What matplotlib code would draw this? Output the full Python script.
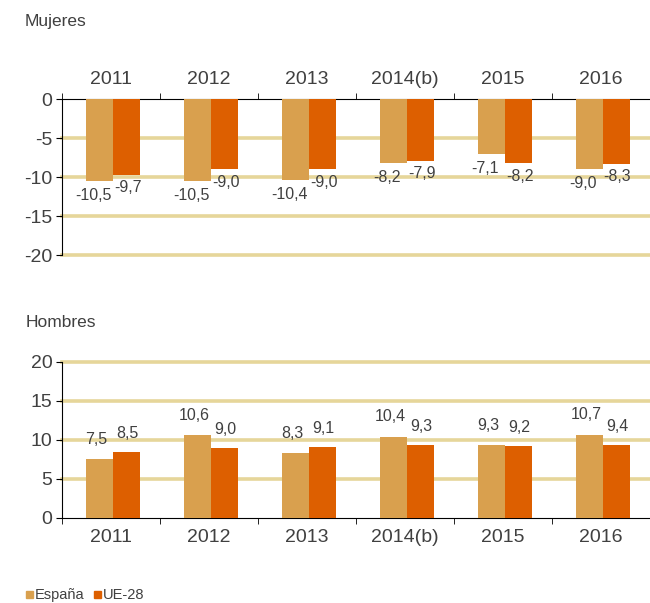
import numpy as np
import matplotlib.pyplot as plt

plt.rcParams['font.family'] = ['Liberation Sans', 'DejaVu Sans']

years = ['2011', '2012', '2013', '2014(b)', '2015', '2016']
mujeres_es = [-10.5, -10.5, -10.4, -8.2, -7.1, -9.0]
mujeres_ue = [-9.7, -9.0, -9.0, -7.9, -8.2, -8.3]
hombres_es = [7.5, 10.6, 8.3, 10.4, 9.3, 10.7]
hombres_ue = [8.5, 9.0, 9.1, 9.3, 9.2, 9.4]

c_es = '#D9A04E'
c_ue = '#DD5F00'
c_grid = '#E6D69A'
c_text = '#404040'

fig = plt.figure(figsize=(6.5, 6.03), dpi=100)
ax1 = fig.add_axes([0.0954, 0.5771, 0.9046, 0.2587])
ax2 = fig.add_axes([0.0954, 0.1410, 0.9046, 0.2587])

x = np.arange(len(years))
w = 0.28


def fmt(v):
    return f'{v:.1f}'.replace('.', ',')


def draw(ax, es, ue, ylim, yticks, top):
    ax.bar(x - w / 2 + 0.02, es, w, color=c_es, zorder=3)
    ax.bar(x + w / 2 + 0.02, ue, w, color=c_ue, zorder=3)
    for t in yticks:
        if t != 0:
            ax.axhline(t, color=c_grid, lw=2.6, zorder=1, clip_on=False)
    ax.set_xlim(-0.5, len(years) - 0.5)
    ax.set_ylim(*ylim)
    ax.set_yticks(yticks)
    ax.set_yticklabels([str(t) for t in yticks], fontsize=14, color=c_text)
    ax.set_xticks(x)
    ax.set_xticklabels(years, fontsize=14, color=c_text)
    ax.set_xticks(np.arange(-0.5, len(years)), minor=True)
    ax.tick_params(axis='x', which='major', length=0, pad=8)
    ax.tick_params(axis='x', which='minor', length=4, direction='out')
    ax.tick_params(axis='y', length=4, direction='out', pad=3)
    ax.spines['right'].set_visible(False)
    if top:
        ax.xaxis.tick_top()
        ax.spines['bottom'].set_visible(False)
        ax.tick_params(axis='x', which='major', length=0)
        for i in range(len(years)):
            ax.annotate(fmt(es[i]), (x[i] - w / 2, es[i]), xytext=(-3, -5),
                        textcoords='offset points', ha='center', va='top',
                        fontsize=11.5, color=c_text)
            ax.annotate(fmt(ue[i]), (x[i] + w / 2, ue[i]), xytext=(2, -4),
                        textcoords='offset points', ha='center', va='top',
                        fontsize=11.5, color=c_text)
    else:
        ax.spines['top'].set_visible(False)
        for i in range(len(years)):
            ax.annotate(fmt(es[i]), (x[i] - w / 2, es[i]), xytext=(-1, 9),
                        textcoords='offset points', ha='center', va='bottom',
                        fontsize=11.5, color=c_text)
            ax.annotate(fmt(ue[i]), (x[i] + w / 2, ue[i]), xytext=(2, 8),
                        textcoords='offset points', ha='center', va='bottom',
                        fontsize=11.5, color=c_text)
    ax.spines['left'].set_zorder(4)


draw(ax1, mujeres_es, mujeres_ue, (-20, 0), [0, -5, -10, -15, -20], True)
draw(ax2, hombres_es, hombres_ue, (0, 20), [0, 5, 10, 15, 20], False)

fig.text(0.038, 0.965, 'Mujeres', fontsize=12.5, color=c_text, va='center')
fig.text(0.040, 0.465, 'Hombres', fontsize=12.5, color=c_text, va='center')

# legend
fig.patches.append(plt.Rectangle((0.040, 0.008), 0.011, 0.012, color=c_es,
                                  transform=fig.transFigure, figure=fig))
fig.text(0.054, 0.014, 'España', fontsize=10.5, color=c_text, va='center')
fig.patches.append(plt.Rectangle((0.145, 0.008), 0.011, 0.012, color=c_ue,
                                  transform=fig.transFigure, figure=fig))
fig.text(0.158, 0.014, 'UE-28', fontsize=10.5, color=c_text, va='center')

fig.savefig('out.png', dpi=100)
